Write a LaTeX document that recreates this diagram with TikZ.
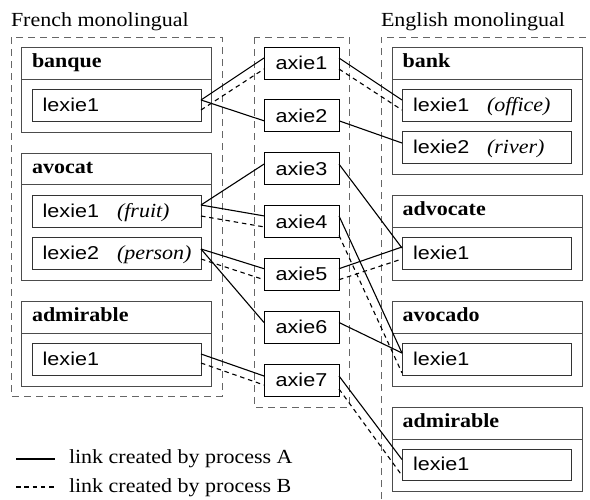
\documentclass[tikz,border=0pt]{standalone}
\usepackage{fontspec}
\setmainfont[FakeStretch=1.1]{Liberation Serif}
\setsansfont[FakeStretch=1.16]{Liberation Sans}
\usetikzlibrary{calc}
\tikzset{
  every node/.style={inner sep=0pt, outer sep=0pt},
  outerbox/.style={draw=black!70, line width=0.9pt, minimum width=190pt, anchor=north west},
  lexbox/.style={draw=black!80, line width=0.9pt, minimum width=169pt, minimum height=32pt, anchor=north west},
  axbox/.style={draw=black, line width=0.9pt, minimum width=75pt, minimum height=32pt, font=\sffamily\fontsize{18.6}{22}\selectfont},
  hdr/.style={font=\bfseries\fontsize{20}{24}\selectfont, anchor=base west},
  lx/.style={font=\sffamily\fontsize{18.6}{22}\selectfont, anchor=base west},
  sense/.style={font=\itshape\fontsize{20}{24}\selectfont, anchor=base west},
  ttl/.style={font=\fontsize{20}{24}\selectfont, anchor=base west},
  container/.style={draw=black!60, line width=0.9pt, dash pattern=on 7pt off 5pt},
  sepline/.style={draw=black!70, line width=0.9pt},
  linkA/.style={draw=black, line width=1.1pt},
  linkB/.style={draw=black, line width=1.1pt, dash pattern=on 4.5pt off 3.8pt},
}
\begin{document}
\begin{tikzpicture}[x=1pt,y=-1pt]
\useasboundingbox (0,0) rectangle (590,499);

% titles
\node[ttl] (frT) at (11,26.7) {French monolingual};
\node[ttl] (enT) at (381,26.7) {English monolingual};

% containers
\draw[container] (11,37) rectangle (222,396);
\draw[container] (254,37) rectangle (349,407);
\draw[container] (381,499) -- (381,37) -- (590,37);

% ---------- French side ----------
\node[outerbox, minimum height=85pt] (banque) at (21,47) {};
\draw[sepline] ($(banque.north west)+(0,32)$) -- ($(banque.north east)+(0,32)$);
\node[hdr] (banqueT) at (32,67.7) {banque};
\node[lexbox] (fb1) at (32,89) {};
\node[lx] (fb1T) at (42.7,111) {lexie1};

\node[outerbox, minimum height=127pt] (avocat) at (21,153) {};
\draw[sepline] ($(avocat.north west)+(0,31)$) -- ($(avocat.north east)+(0,31)$);
\node[hdr] (avocatT) at (32,173.7) {avocat};
\node[lexbox] (fa1) at (32,195) {};
\node[lx] (fa1T) at (42.7,217) {lexie1};
\node[sense] (fa1S) at (117,217) {(fruit)};
\node[lexbox] (fa2) at (32,237) {};
\node[lx] (fa2T) at (42.7,259) {lexie2};
\node[sense] (fa2S) at (117,259) {(person)};

\node[outerbox, minimum height=85pt] (fadm) at (21,301) {};
\draw[sepline] ($(fadm.north west)+(0,32)$) -- ($(fadm.north east)+(0,32)$);
\node[hdr] (fadmT) at (32,321.7) {admirable};
\node[lexbox] (fd1) at (32,343) {};
\node[lx] (fd1T) at (42.7,365) {lexie1};

% ---------- axies ----------
\node[axbox] (a1) at (301.5,63) {axie1};
\node[axbox] (a2) at (301.5,115.8) {axie2};
\node[axbox] (a3) at (301.5,168.6) {axie3};
\node[axbox] (a4) at (301.5,221.4) {axie4};
\node[axbox] (a5) at (301.5,274.2) {axie5};
\node[axbox] (a6) at (301.5,327) {axie6};
\node[axbox] (a7) at (301.5,380) {axie7};

% ---------- English side ----------
\node[outerbox, minimum height=127pt] (bank) at (392,47) {};
\draw[sepline] ($(bank.north west)+(0,32)$) -- ($(bank.north east)+(0,32)$);
\node[hdr] (bankT) at (402.7,67.7) {bank};
\node[lexbox] (eb1) at (402,89) {};
\node[lx] (eb1T) at (413,111) {lexie1};
\node[sense] (eb1S) at (487,111) {(office)};
\node[lexbox] (eb2) at (402,131) {};
\node[lx] (eb2T) at (413,153) {lexie2};
\node[sense] (eb2S) at (487,153) {(river)};

\node[outerbox, minimum height=85pt] (advocate) at (392,195) {};
\draw[sepline] ($(advocate.north west)+(0,32)$) -- ($(advocate.north east)+(0,32)$);
\node[hdr] (advocateT) at (402.7,215.7) {advocate};
\node[lexbox] (ev1) at (402,237) {};
\node[lx] (ev1T) at (413,259) {lexie1};

\node[outerbox, minimum height=85pt] (avocado) at (392,301) {};
\draw[sepline] ($(avocado.north west)+(0,32)$) -- ($(avocado.north east)+(0,32)$);
\node[hdr] (avocadoT) at (402.7,321.7) {avocado};
\node[lexbox] (eo1) at (402,343) {};
\node[lx] (eo1T) at (413,365) {lexie1};

\node[outerbox, minimum height=84pt] (eadm) at (392,407) {};
\draw[sepline] ($(eadm.north west)+(0,32)$) -- ($(eadm.north east)+(0,32)$);
\node[hdr] (eadmT) at (402.7,427.7) {admirable};
\node[lexbox, minimum height=31pt] (ed1) at (402,449) {};
\node[lx] (ed1T) at (413,470.5) {lexie1};

% ---------- links French -> axies ----------
\draw[linkA] ($(fb1.east)+(0,-5)$) -- ($(a1.west)+(0,-5)$);
\draw[linkB] ($(fb1.east)+(0,5)$) -- ($(a1.west)+(0,6)$);
\draw[linkA] ($(fb1.east)+(0,-5)$) -- ($(a2.west)+(0,5)$);
\draw[linkA] ($(fa1.east)+(0,-6)$) -- ($(a3.west)+(0,-4.5)$);
\draw[linkA] ($(fa1.east)+(0,-6)$) -- ($(a4.west)+(0,-5.5)$);
\draw[linkB] ($(fa1.east)+(0,5)$) -- ($(a4.west)+(0,5.5)$);
\draw[linkA] ($(fa2.east)+(0,-4)$) -- ($(a5.west)+(0,-5.5)$);
\draw[linkB] ($(fa2.east)+(0,6)$) -- ($(a5.west)+(0,5.5)$);
\draw[linkA] ($(fa2.east)+(0,-4)$) -- ($(a6.west)+(0,-4.5)$);
\draw[linkA] ($(fd1.east)+(0,-5)$) -- ($(a7.west)+(0,-4)$);
\draw[linkB] ($(fd1.east)+(0,4)$) -- ($(a7.west)+(0,5)$);

% ---------- links axies -> English ----------
\draw[linkA] ($(a1.east)+(0,-5)$) -- ($(eb1.west)+(0,-5)$);
\draw[linkB] ($(a1.east)+(0,6)$) -- ($(eb1.west)+(0,5)$);
\draw[linkA] ($(a2.east)+(0,5)$) -- ($(eb2.west)+(0,-4)$);
\draw[linkA] ($(a3.east)+(0,-4.5)$) -- ($(ev1.west)+(0,-5)$);
\draw[linkA] ($(a4.east)+(0,-5.5)$) -- ($(eo1.west)+(0,-6)$);
\draw[linkB] ($(a4.east)+(0,14)$) -- ($(eo1.west)+(0,14)$);
\draw[linkA] ($(a5.east)+(0,-5.5)$) -- ($(ev1.west)+(0,-6)$);
\draw[linkB] ($(a5.east)+(0,5.5)$) -- ($(ev1.west)+(0,6)$);
\draw[linkA] ($(a6.east)+(0,-4.5)$) -- ($(eo1.west)+(0,-6)$);
\draw[linkA] ($(a7.east)+(0,-4)$) -- ($(ed1.west)+(0,-5)$);
\draw[linkB] ($(a7.east)+(0,9)$) -- ($(ed1.west)+(0,11)$);

% ---------- legend ----------
\coordinate (lgA1) at (16,459);
\coordinate (lgA2) at (55,459);
\draw[linkA] (lgA1) -- (lgA2);
\node[ttl] (lgAT) at (69,463) {link created by process A};
\coordinate (lgB1) at (16,487);
\coordinate (lgB2) at (55,487);
\draw[linkB] (lgB1) -- (lgB2);
\node[ttl] (lgBT) at (69,492) {link created by process B};
\end{tikzpicture}
\end{document}
